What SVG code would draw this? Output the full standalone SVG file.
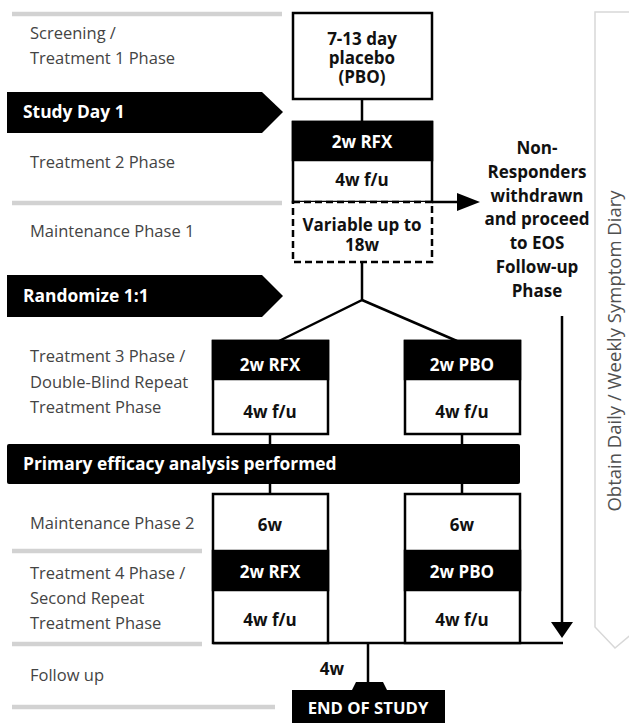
<svg xmlns="http://www.w3.org/2000/svg" width="629" height="723" viewBox="0 0 629 723">
<defs>
<style>
.lbl{font-family:"Open Sans","Liberation Sans",sans-serif;font-size:16.5px;fill:#444}
.bt{font-family:"Open Sans","Liberation Sans",sans-serif;font-size:17px;font-weight:bold;fill:#111;text-anchor:middle}
.wt{font-family:"Open Sans","Liberation Sans",sans-serif;font-size:17px;font-weight:bold;fill:#fff;text-anchor:middle}
.wl{font-family:"Open Sans","Liberation Sans",sans-serif;font-size:17.4px;font-weight:bold;fill:#fff}
.sep{stroke:#d2d2d2;stroke-width:4.5}
.box{fill:#fff;stroke:#000;stroke-width:2.5}
.blk{fill:#000;stroke:#000;stroke-width:2.5}
.ln{stroke:#000;stroke-width:2.5;fill:none}
</style>
</defs>
<rect width="629" height="723" fill="#fff"/>

<g id="separators">
<line class="sep" x1="12" y1="14" x2="282" y2="14"/>
<line class="sep" x1="12" y1="203" x2="282" y2="203"/>
<line class="sep" x1="12" y1="551" x2="202" y2="551"/>
<line class="sep" x1="12" y1="644" x2="202" y2="644"/>
<line class="sep" x1="12" y1="707" x2="275" y2="707"/>
</g>

<g id="phase-labels">
<text class="lbl" x="30" y="39">Screening /</text>
<text class="lbl" x="30" y="64">Treatment 1 Phase</text>
<text class="lbl" x="30" y="168">Treatment 2 Phase</text>
<text class="lbl" x="30" y="237">Maintenance Phase 1</text>
<text class="lbl" x="30" y="362">Treatment 3 Phase /</text>
<text class="lbl" x="30" y="388">Double-Blind Repeat</text>
<text class="lbl" x="30" y="413">Treatment Phase</text>
<text class="lbl" x="30" y="529">Maintenance Phase 2</text>
<text class="lbl" x="30" y="579">Treatment 4 Phase /</text>
<text class="lbl" x="30" y="604">Second Repeat</text>
<text class="lbl" x="30" y="629">Treatment Phase</text>
<text class="lbl" x="30" y="681">Follow up</text>
</g>

<g id="study-day-1">
<path d="M7,92 L262,92 L283,112 L262,133 L7,133 z" fill="#000"/>
<text class="wl" x="23" y="118">Study Day 1</text>
</g>

<g id="randomize">
<path d="M7,275 L262,275 L283,296 L262,317 L7,317 z" fill="#000"/>
<text class="wl" x="23" y="302">Randomize 1:1</text>
</g>

<g id="primary-efficacy">
<rect x="7" y="444" width="513" height="40" rx="2" fill="#000"/>
<text class="wl" x="23" y="470">Primary efficacy analysis performed</text>
</g>

<g id="diary">
<path d="M595,12 L640,12 L640,627 L615,648 L595,627 z" fill="#fff" stroke="#d8d8d8" stroke-width="1.5"/>
<text transform="translate(621,351) rotate(-90)" text-anchor="middle" style="font-family:'Open Sans','Liberation Sans',sans-serif;font-size:18.5px;fill:#505050">Obtain Daily / Weekly Symptom Diary</text>
</g>

<g id="connectors">
<line class="ln" x1="362" y1="99" x2="362" y2="122"/>
<line class="ln" x1="293" y1="202" x2="460" y2="202"/>
<polygon points="457,193 480,202 457,211" fill="#000"/>
<polyline class="ln" points="362,262 362,300 279,341"/>
<line class="ln" x1="362" y1="300" x2="457" y2="341"/>
<line class="ln" x1="270" y1="434" x2="270" y2="444"/>
<line class="ln" x1="462" y1="434" x2="462" y2="444"/>
<line class="ln" x1="270" y1="484" x2="270" y2="494"/>
<line class="ln" x1="462" y1="484" x2="462" y2="494"/>
<line class="ln" x1="562" y1="316" x2="562" y2="625"/>
<polygon points="551,622 573,622 562,638" fill="#000"/>
<line class="ln" x1="213" y1="643" x2="563" y2="643"/>
<line class="ln" x1="368" y1="643" x2="368" y2="684"/>
</g>

<g id="placebo-box">
<rect class="box" x="293" y="13" width="139" height="86"/>
<text class="bt" x="362" y="45">7-13 day</text>
<text class="bt" x="362" y="64">placebo</text>
<text class="bt" x="362" y="83">(PBO)</text>
</g>

<g id="treatment2">
<rect class="box" x="293" y="122" width="139" height="80"/>
<rect class="blk" x="293" y="122" width="139" height="38"/>
<text class="wt" x="362" y="148">2w RFX</text>
<text class="bt" x="362" y="186">4w f/u</text>
</g>

<g id="maintenance1">
<rect x="293" y="202" width="139" height="60" fill="#fff" stroke="#000" stroke-width="2.5" stroke-dasharray="7,4"/>
<text class="bt" x="362" y="231">Variable up to</text>
<text class="bt" x="362" y="251">18w</text>
</g>

<g id="non-responders">
<text class="bt" x="537" y="154">Non-</text>
<text class="bt" x="537" y="178">Responders</text>
<text class="bt" x="537" y="202">withdrawn</text>
<text class="bt" x="537" y="225">and proceed</text>
<text class="bt" x="537" y="249">to EOS</text>
<text class="bt" x="537" y="273">Follow-up</text>
<text class="bt" x="537" y="297">Phase</text>
</g>

<g id="t3-rfx">
<rect class="box" x="213" y="341" width="115" height="93"/>
<rect class="blk" x="213" y="341" width="115" height="38"/>
<text class="wt" x="270" y="371">2w RFX</text>
<text class="bt" x="270" y="418">4w f/u</text>
</g>

<g id="t3-pbo">
<rect class="box" x="405" y="341" width="115" height="93"/>
<rect class="blk" x="405" y="341" width="115" height="38"/>
<text class="wt" x="462" y="371">2w PBO</text>
<text class="bt" x="462" y="418">4w f/u</text>
</g>

<g id="t4-rfx">
<rect class="box" x="213" y="494" width="115" height="149"/>
<rect class="blk" x="213" y="551" width="115" height="39"/>
<text class="bt" x="270" y="531">6w</text>
<text class="wt" x="270" y="578">2w RFX</text>
<text class="bt" x="270" y="626">4w f/u</text>
</g>

<g id="t4-pbo">
<rect class="box" x="405" y="494" width="115" height="149"/>
<rect class="blk" x="405" y="551" width="115" height="39"/>
<text class="bt" x="462" y="531">6w</text>
<text class="wt" x="462" y="578">2w PBO</text>
<text class="bt" x="462" y="626">4w f/u</text>
</g>

<g id="follow-up-label">
<text class="bt" x="332" y="675">4w</text>
</g>

<g id="end-of-study">
<path d="M292,690 L352,690 L356,682 L383,682 L387,690 L445,690 L445,723 L292,723 z" fill="#000"/>
<text class="wt" x="368" y="714" style="font-size:16.7px">END OF STUDY</text>
</g>
</svg>
